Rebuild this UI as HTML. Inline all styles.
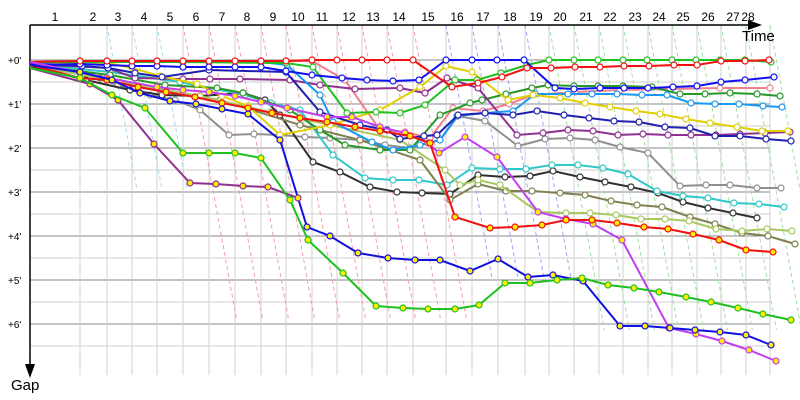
<!DOCTYPE html>
<html><head><meta charset="utf-8"><style>
body{margin:0;background:#fff}
svg{display:block;font-family:"Liberation Sans",sans-serif}
</style></head><body>
<svg id="s" width="800" height="400" viewBox="0 0 800 400" xmlns="http://www.w3.org/2000/svg"></svg>
<script>
const S=document.getElementById('s');let h='';
const cols=[80,107,132,157,183,209,235,261,286,312,337,362,387,413,446,472,498,525,549,574,599,623,648,672,697,721,746,770];
for(let i=0;i<14;i++){const y=60+22*i;if(y>370)break;h+=`<line x1="30" y1="${y}" x2="770" y2="${y}" stroke="${i%2?'#cfcfcf':'#8a8a8a'}" stroke-width="1"/>`;}
cols.forEach(x=>h+=`<line x1="${x}" y1="25" x2="${x}" y2="375" stroke="#d0d0d0"/>`);
cols.forEach((x,i)=>{let c=i<4?'#a8d8f0':i<14?'#f4a0a0':i<18?'#a0a8f0':'#a0e0a0';if(i==0)return;
let ye=i<4?190:i<14?320:i<18?280:330;
h+=`<line x1="${x}" y1="25" x2="${x+(ye-25)/5.5}" y2="${ye}" stroke="${c}" stroke-dasharray="4,3" stroke-width="1"/>`;});
h+=`<line x1="30" y1="25" x2="750" y2="25" stroke="#000" stroke-width="1.5"/><polygon points="748,20 762,25 748,30" fill="#000"/>`;
h+=`<line x1="30" y1="25" x2="30" y2="370" stroke="#000" stroke-width="1.5"/><polygon points="25,364 30,378 35,364" fill="#000"/>`;
const lx=[55,93,118,144,170,196,222,247,273,298,322,349,373,399,428,457,483,510,536,560,586,610,635,659,683,708,733,748];
lx.forEach((x,i)=>h+=`<text x="${x}" y="21" font-size="12" text-anchor="middle">${i+1}</text>`);
h+=`<text x="742" y="41" font-size="15">Time</text><text x="11" y="390" font-size="15">Gap</text>`;
for(let i=0;i<7;i++)h+=`<text x="8" y="${64+44*i}" font-size="10">+${i}'</text>`;
function P(c,pts,mk){let s=pts.map(p=>p.join(',')).join(' ');h+=`<polyline points="${s}" fill="none" stroke="${c}" stroke-width="2"/>`;
pts.slice(1).forEach(p=>h+=`<circle cx="${p[0]}" cy="${p[1]}" r="3" fill="${mk?'#ffee00':'#fff'}" stroke="${c}" stroke-width="1.2"/>`);}
P('#f08090',[[30,62],[80,61],[107,61],[157,61],[209,61],[261,61],[286,61],[312,61],[345,80],[380,130],[405,132],[430,138],[453,108],[483,111],[509,104],[533,95],[575,92],[620,90],[670,89],[720,88],[770,88]]);
P('#909090',[[30,64],[90,76],[118,85],[150,95],[175,100],[200,110],[229,135],[254,134],[280,135],[305,137],[330,138],[360,140],[385,145],[410,148],[440,140],[458,116],[485,121],[518,146],[545,139],[570,138],[595,140],[620,147],[648,153],[680,186],[706,185],[730,185],[757,188],[781,188]]);
P('#303030',[[30,66],[86,80],[130,90],[162,95],[200,96],[243,93],[265,100],[280,115],[313,162],[340,172],[370,187],[397,192],[422,193],[450,194],[478,175],[505,177],[530,176],[553,171],[580,177],[605,182],[631,187],[658,193],[683,202],[708,208],[733,213],[757,218]]);
P('#30c8c8',[[30,64],[110,72],[180,82],[245,95],[271,103],[300,110],[333,155],[365,178],[393,180],[419,180],[447,185],[472,168],[500,169],[526,169],[552,165],[578,165],[603,168],[628,174],[657,191],[683,196],[708,198],[734,203],[759,204],[784,207]]);
P('#808050',[[30,65],[100,78],[160,90],[220,100],[300,125],[360,140],[420,160],[450,200],[478,184],[506,191],[532,191],[560,193],[585,195],[611,201],[637,205],[662,207],[690,217],[715,224],[742,233],[768,236],[795,244]]);
P('#a8c860',[[30,65],[120,82],[200,96],[270,112],[330,125],[400,140],[445,170],[460,185],[478,180],[500,185],[538,212],[566,213],[590,213],[616,215],[641,219],[665,219],[689,221],[716,229],[742,231],[767,229],[792,231]]);
P('#289828',[[30,65],[110,75],[165,85],[217,88],[243,93],[290,110],[320,130],[345,145],[380,150],[410,150],[440,115],[470,103],[482,100],[506,94],[532,88],[548,85],[574,86],[598,86],[623,86],[652,87],[680,94],[705,94],[730,93],[757,94],[780,96]]);
P('#903090',[[30,64],[108,68],[135,78],[183,79],[210,79],[240,79],[290,80],[320,85],[355,89],[400,88],[425,93],[447,78],[478,88],[517,135],[543,133],[568,130],[593,131],[618,135],[643,134],[668,135],[691,135],[716,135],[740,134],[765,133],[790,132]]);
P('#1898f0',[[30,64],[80,61],[107,61],[157,61],[209,62],[261,62],[287,65],[320,95],[333,122],[372,142],[393,150],[420,145],[440,140],[457,116],[485,113],[513,111],[535,94],[568,94],[592,94],[617,94],[642,95],[667,95],[691,103],[715,104],[739,104],[763,106],[782,107]]);
P('#e0d000',[[30,66],[82,62],[108,63],[132,68],[160,76],[197,84],[222,96],[248,106],[280,135],[330,125],[380,110],[420,87],[446,66],[472,72],[508,100],[533,95],[560,98],[585,103],[610,107],[636,111],[660,114],[686,119],[710,123],[737,127],[762,131],[788,131]]);
P('#2020b0',[[30,64],[82,66],[108,68],[135,73],[162,77],[209,70],[286,72],[320,112],[360,125],[387,130],[400,139],[424,136],[437,135],[458,115],[485,113],[513,115],[537,111],[564,115],[589,118],[614,121],[639,122],[665,127],[690,128],[715,136],[740,136],[766,139],[791,141]]);
P('#20c020',[[30,62],[183,62],[286,63],[313,67],[347,113],[376,112],[400,113],[425,105],[455,80],[477,80],[501,73],[527,65],[549,60],[574,60],[598,60],[623,60],[647,60],[672,60],[696,60],[720,60],[745,60],[771,62]]);
P('#1010f0',[[30,65],[80,64],[107,65],[132,66],[157,66],[183,67],[209,67],[235,67],[261,67],[286,71],[312,75],[342,78],[367,80],[393,81],[419,80],[446,60],[472,60],[497,60],[524,60],[555,88],[574,89],[600,88],[624,88],[648,88],[673,87],[697,86],[721,82],[745,80],[774,77]]);
P('#f01010',[[30,62],[80,61],[107,61],[132,61],[157,61],[183,61],[209,61],[235,61],[261,61],[286,61],[312,60],[337,60],[362,60],[387,60],[413,60],[452,87],[478,83],[502,77],[527,68],[551,68],[575,67],[600,67],[624,66],[649,66],[674,65],[697,65],[721,61],[745,61],[769,60]]);
P('#c040f0',[[30,62],[107,78],[157,87],[183,90],[209,92],[235,96],[261,102],[287,108],[327,117],[352,117],[380,127],[405,133],[428,143],[439,153],[465,137],[497,157],[538,212],[566,219],[593,224],[622,240],[669,328],[696,334],[722,341],[749,350],[776,361]],1);
P('#f01010',[[30,65],[80,78],[107,80],[138,87],[166,92],[195,97],[222,103],[248,108],[272,113],[300,118],[327,122],[355,127],[380,131],[410,136],[430,143],[455,217],[490,228],[515,227],[542,225],[566,220],[592,220],[617,223],[644,227],[668,229],[693,234],[719,240],[746,250],[773,252]],1);
P('#1010e0',[[30,65],[80,72],[112,80],[140,93],[170,101],[196,104],[222,109],[248,114],[280,140],[307,227],[330,236],[358,253],[388,258],[415,260],[440,260],[470,271],[498,259],[528,277],[553,275],[583,281],[620,326],[645,326],[670,328],[695,330],[720,332],[746,335],[771,345]],1);
P('#903090',[[30,68],[90,84],[118,100],[154,144],[190,183],[216,184],[243,186],[268,187],[298,198]],1);
P('#20c020',[[30,68],[80,78],[112,95],[145,108],[183,153],[209,153],[235,153],[261,158],[290,200],[308,240],[343,273],[376,306],[403,308],[428,309],[455,309],[479,305],[505,283],[530,283],[557,280],[582,278],[608,285],[634,288],[659,292],[686,297],[711,302],[738,308],[763,314],[791,320]],1);
S.innerHTML=h;
</script>
</body></html>
